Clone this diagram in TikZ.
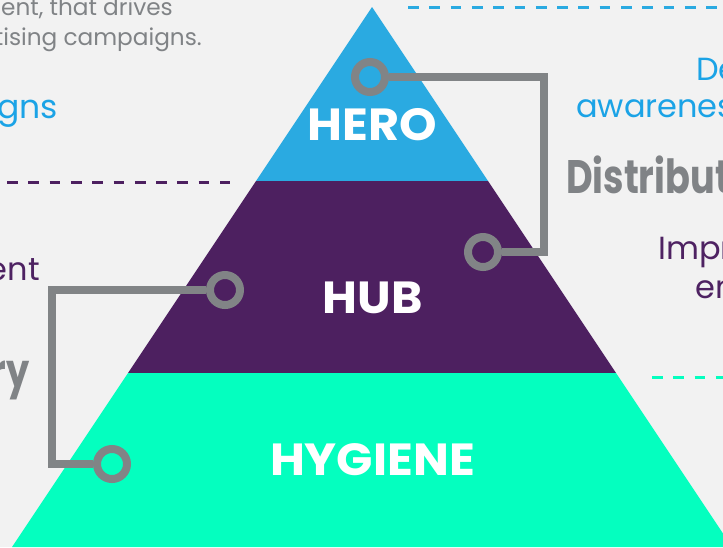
\documentclass[tikz,border=0pt]{standalone}
\usepackage{fontspec}
\setmainfont{Poppins}
\definecolor{bg}{HTML}{F2F2F2}
\definecolor{heroblue}{HTML}{2AAAE1}
\definecolor{hubpurple}{HTML}{4D2060}
\definecolor{hygteal}{HTML}{04FFBF}
\definecolor{lgray}{HTML}{818486}
\definecolor{tblue}{HTML}{1BA3E6}
\definecolor{tpurple}{HTML}{4E2262}
\definecolor{tgray}{HTML}{808386}
\tikzset{
  ring/.style={circle, draw=lgray, line width=8pt, minimum size=30pt, inner sep=0pt},
  conn/.style={draw=lgray, line width=8pt, line join=miter},
  tier/.style={text=white, inner sep=0pt, anchor=base, xscale=1.06, font=\bfseries\fontsize{45}{45}\selectfont},
  dashline/.style={line width=3pt, dash pattern=on 10.7pt off 10.6pt},
  txt/.style={inner sep=0pt},
  small/.style={txt, text=tgray, font=\fontsize{23.2}{23.2}\selectfont},
  mid/.style={txt, font=\fontsize{32}{32}\selectfont},
  heavy/.style={txt, text=tgray, xscale=0.78, font=\bfseries\fontsize{47}{47}\selectfont},
}
\begin{document}
\begin{tikzpicture}[x=1pt, y=-1pt]
\useasboundingbox (0,0) rectangle (723,547);
\clip (0,0) rectangle (723,547);
\fill[bg] (0,0) rectangle (723,547);
% pyramid
\fill[heroblue] (372,7) -- (488,181) -- (256,181) -- cycle;
\fill[hubpurple] (256,181) -- (488,181) -- (616,373) -- (128,373) -- cycle;
\fill[hygteal] (128,373) -- (616,373) -- (732,547) -- (12,547) -- cycle;
% dashed lines
\draw[dashline, draw=heroblue] (408,7) -- (730,7);
\draw[dashline, draw=hubpurple] (7,182) -- (230,182);
\draw[dashline, draw=hygteal] (652,377) -- (730,377);
% tier labels
\node[tier] (hero) at (372.5,140) {HERO};
\node[tier] (hub) at (372.5,313) {HUB};
\node[tier] (hyg) at (372.5,475) {HYGIENE};
% rings
\node[ring] (c1) at (370,77) {};
\node[ring] (c2) at (483,252) {};
\node[ring] (c3) at (225,290) {};
\node[ring] (c4) at (112,464) {};
\coordinate (k1) at (544,160);
\coordinate (k2) at (52,380);
\draw[conn] (c1.east) -| (k1) |- (c2.east);
\draw[conn] (c3.west) -| (k2) |- (c4.west);
% side texts
\node[small, anchor=base east] (t1) at (173,15) {ent, that drives};
\node[small, anchor=base east] (t2) at (202,45) {tising campaigns.};
\node[mid, text=tblue, anchor=base east, font=\fontsize{33}{33}\selectfont] (t3) at (58,118) {gns};
\node[mid, text=tpurple, anchor=base east] (t4) at (40,280) {ent};
\node[heavy, anchor=base east] (t5) at (30,387) {ry};
\node[mid, text=tblue, anchor=base west] (t6) at (696,80) {De};
\node[mid, text=tblue, anchor=base west] (t7) at (576,117) {awarenes};
\node[heavy, anchor=base west] (t8) at (566,193) {Distribut};
\node[mid, text=tpurple, anchor=base west] (t9) at (658,259) {Impr};
\node[mid, text=tpurple, anchor=base west] (t10) at (695,298) {en};
\end{tikzpicture}
\end{document}
